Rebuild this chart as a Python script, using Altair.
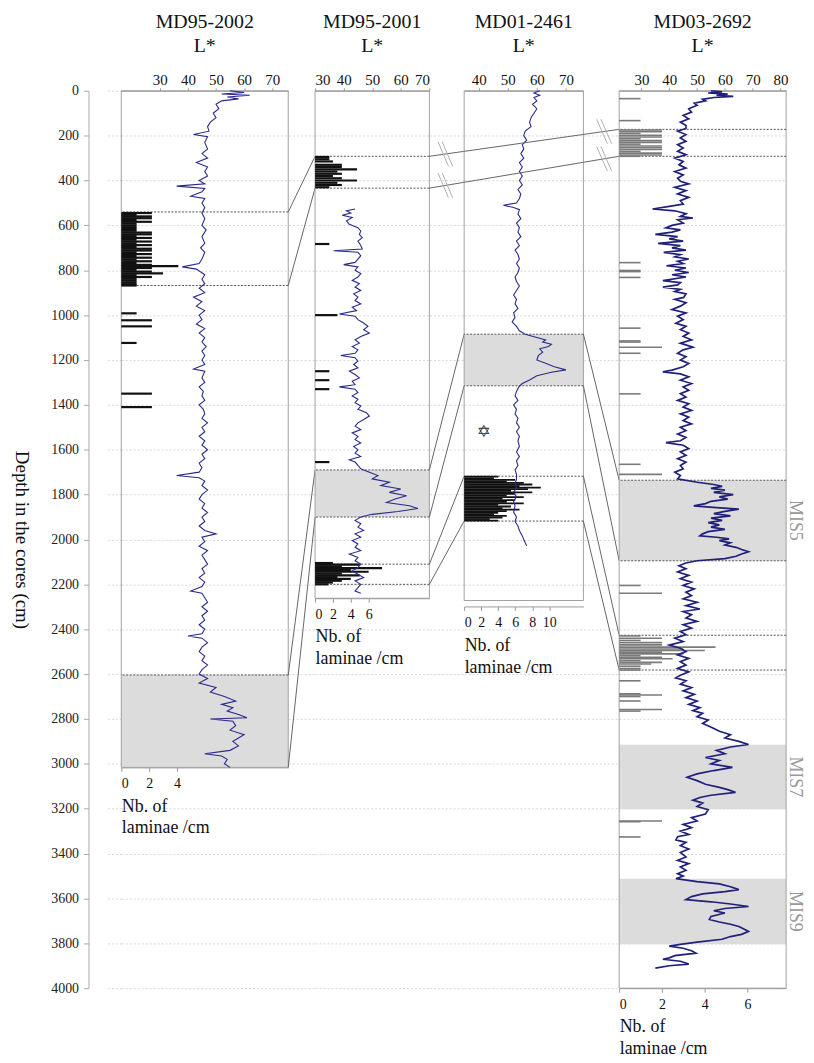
import altair as alt
import pandas as pd

FONT = "Liberation Serif"
BLUE = "#2a2a8a"
PLOT_H = 903
DMAX = 4000
PX = PLOT_H / DMAX

# ---------------- MD95-2002 ----------------
p1_depth = [0, 8, 14, 20, 28, 36, 45, 60, 80, 100, 120, 140, 160, 180, 195, 205, 230, 260, 280, 300,
            320, 340, 360, 380, 400, 415, 425, 435, 450, 470, 480, 500, 520, 545, 570, 600, 620, 650, 680, 700,
            720, 750, 770, 785, 795, 820, 840, 860, 880, 900, 920, 940, 960, 980, 1000, 1020, 1040, 1060, 1080, 1100,
            1120, 1140, 1160, 1180, 1200, 1220, 1240, 1250, 1280, 1300, 1320, 1340, 1360, 1380, 1400, 1420, 1440, 1460, 1480, 1500,
            1520, 1540, 1560, 1580, 1600, 1620, 1640, 1660, 1680, 1700, 1715, 1725, 1740, 1760, 1780, 1800, 1820, 1840, 1860, 1880,
            1900, 1920, 1940, 1960, 1975, 1990, 2010, 2030, 2050, 2070, 2090, 2110, 2130, 2150, 2170, 2190, 2210, 2230, 2240, 2260,
            2280, 2300, 2320, 2340, 2360, 2380, 2400, 2420, 2430, 2440, 2460, 2480, 2500, 2520, 2540, 2560, 2580, 2600, 2620, 2640,
            2660, 2680, 2700, 2720, 2735, 2750, 2765, 2780, 2795, 2800, 2810, 2830, 2850, 2870, 2885, 2900, 2920, 2940, 2955, 2965,
            2980, 3000, 3016]
p1_L = [55, 60, 52, 62, 54, 58, 52, 50, 51, 49, 50, 48, 47, 47.5, 42, 47, 46, 47, 45, 47,
        43, 47, 46, 47, 44, 46, 36, 46, 45, 41, 46, 45, 46, 45, 46, 45, 46.5, 45, 46, 44.5,
        46, 45, 44, 38, 43, 46, 45, 46, 44, 46, 42, 45, 43, 46, 44, 45, 43, 46, 44, 46,
        45, 46.5, 45, 46, 45, 46, 42, 46, 45, 46, 44, 45.5, 45, 46, 44, 45.5, 46, 45, 47, 45,
        46, 44, 46, 45, 47, 45, 46, 44, 45, 44, 36, 44, 46, 45, 47, 45, 44, 46, 45, 47,
        45, 46, 44, 46, 50, 45, 46, 44, 47, 45, 46, 47, 45, 46, 44, 46, 45, 41, 45, 46,
        47, 45, 47, 45, 46, 44, 46, 45, 40, 45, 47, 45, 44, 46, 45, 47, 45, 44, 47, 44,
        50, 48, 53, 57, 52, 56, 54, 58, 61, 48, 56, 57, 55, 60, 58, 56, 58, 55, 46, 52,
        54, 53, 55]
p1_lam_depth = [545, 553, 560, 568, 576, 584, 592, 600, 608, 616, 624, 632, 640, 648, 656, 664, 672, 680, 688, 696,
                704, 712, 720, 728, 736, 744, 752, 760, 768, 776, 782, 790, 798, 806, 814, 822, 830, 838, 846, 854,
                862, 868, 992, 1023, 1050, 1124, 1350, 1410]
p1_lam_n = [2.2, 1.1, 2.2, 2.2, 1.1, 2.2, 1.1, 1.1, 1.1, 1.1, 1.1, 2.2, 2.2, 1.1, 2.2, 1.1, 2.2, 1.1, 2.2, 1.1,
            2.2, 2.2, 1.1, 2.2, 1.1, 2.2, 1.1, 2.2, 1.1, 2.2, 4.1, 2.2, 1.1, 2.2, 3.0, 1.1, 2.2, 1.1, 1.1, 1.1,
            1.1, 1.1, 1.1, 2.2, 2.2, 1.1, 2.2, 2.2]

# ---------------- MD95-2001 ----------------
p2_depth = [527, 535, 545, 555, 565, 580, 595, 610, 625, 640, 655, 670, 690, 705, 713, 720, 735, 750, 765, 775,
            785, 800, 815, 830, 845, 860, 875, 890, 905, 920, 935, 950, 965, 980, 995, 1005, 1020, 1035, 1050, 1065,
            1080, 1095, 1110, 1125, 1140, 1155, 1170, 1180, 1190, 1205, 1220, 1235, 1250, 1265, 1280, 1295, 1310, 1320, 1330, 1345,
            1360, 1375, 1390, 1405, 1420, 1435, 1450, 1465, 1480, 1495, 1510, 1525, 1540, 1555, 1570, 1585, 1600, 1615, 1630, 1645,
            1655, 1670, 1685, 1700, 1715, 1730, 1745, 1760, 1775, 1790, 1805, 1820, 1835, 1850, 1862, 1875, 1888, 1900, 1915, 1930,
            1945, 1960, 1975, 1990, 2005, 2020, 2035, 2050, 2065, 2080, 2095, 2110, 2125, 2140, 2155, 2170, 2185, 2200, 2215, 2230,
            2240]
p2_L = [44, 41, 42.5, 39.5, 43, 41, 42, 45, 46, 45.5, 46.5, 45, 46, 46.5, 36.5, 45, 46, 45, 44, 40,
        45, 44, 46, 45, 43, 45.5, 44, 46, 43.5, 45, 44, 46, 43, 44.5, 38.5, 44, 45, 47, 48.5, 47,
        49, 46, 44, 45.5, 43, 45, 44, 39, 44, 45, 43.5, 45, 42, 44, 45.5, 43, 44, 38.5, 44, 45,
        43, 45, 44, 46, 45, 48, 49, 47, 45, 44, 46, 43, 45, 44, 46, 43.5, 45, 44, 46, 42,
        44, 45, 46, 49, 52, 50, 56, 53, 60, 56, 62, 58, 55, 63, 66, 59, 50, 46, 44, 46,
        45, 47, 44, 46, 43, 45, 44, 46, 42, 45, 44, 46, 45, 43, 45, 47, 44, 46, 45, 44,
        46]
p2_lam_depth = [295, 305, 315, 330, 340, 350, 360, 370, 380, 390, 400, 410, 420, 430, 683, 1000, 1250, 1290, 1330, 1655,
                2105, 2112, 2120, 2128, 2136, 2144, 2152, 2160, 2168, 2176, 2184, 2192, 2200]
p2_lam_n = [1.6, 1.6, 2.0, 3.0, 3.0, 4.7, 2.5, 3.0, 2.0, 3.0, 4.7, 2.5, 3.0, 1.6, 1.6, 2.5, 1.6, 1.6, 1.6, 1.6,
            2.0, 5.0, 3.0, 7.5, 4.0, 6.0, 3.0, 5.0, 2.5, 4.0, 3.0, 2.0, 1.5]

# ---------------- MD01-2461 ----------------
p3_depth = [0, 10, 20, 30, 45, 60, 80, 100, 120, 140, 160, 180, 200, 220, 240, 260, 280, 300, 320, 340,
            360, 380, 400, 420, 440, 460, 480, 500, 510, 520, 530, 550, 570, 590, 610, 630, 650, 670, 690, 710,
            730, 750, 770, 790, 810, 830, 850, 870, 890, 910, 930, 950, 970, 990, 1010, 1030, 1050, 1070, 1085, 1100,
            1111, 1120, 1130, 1140, 1150, 1165, 1180, 1200, 1215, 1230, 1244, 1255, 1270, 1289, 1305, 1320, 1340, 1360, 1380, 1400,
            1420, 1440, 1460, 1480, 1500, 1520, 1540, 1560, 1585, 1610, 1630, 1650, 1670, 1690, 1710, 1732, 1750, 1770, 1790, 1810,
            1830, 1850, 1878, 1900, 1920, 1940, 1960, 1984, 2000, 2015, 2028]
p3_L = [61, 59, 61, 59, 60, 58.5, 60, 59, 58, 57.5, 58, 56, 55.5, 56.5, 55, 55.5, 54.5, 55.5, 54, 55,
        54, 55, 54, 55, 53.5, 54.5, 54, 53, 48.5, 52, 54, 53.5, 54.5, 53, 54, 53.5, 54.5, 53, 54, 52.5,
        53.5, 54, 53, 54, 53.5, 52.5, 53, 54, 53, 52, 53, 52.5, 53.5, 52, 52.5, 51.5, 53, 54, 56, 60,
        63, 62, 65, 64, 61, 62, 60.5, 60, 63, 66, 70, 65, 60, 57.5, 55, 53.8, 53, 52.5, 53.5, 52,
        53, 52.5, 53.5, 53, 54, 53, 54, 53.5, 54, 53, 54, 53, 53.5, 52.5, 53, 53, 52.5, 53, 52, 53,
        52, 52.5, 52, 53, 52.5, 53.5, 54, 55, 55.5, 56, 56.5]
p3_lam_depth = [1720, 1727, 1734, 1741, 1748, 1755, 1762, 1769, 1776, 1783, 1790, 1797, 1804, 1811, 1818, 1825, 1832, 1839, 1846, 1853,
                1860, 1867, 1874, 1881, 1888, 1895, 1902, 1909, 1916]
p3_lam_n = [4, 3.5, 6, 5, 7, 8, 6.5, 9, 7.5, 5.5, 8, 6, 5, 7, 4.5, 6, 5, 7, 4, 5.5,
            4.5, 6.5, 5, 4, 3.5, 5, 4.5, 3, 4]
p3_star = {"depth": [1523], "n": [2.3]}

# ---------------- MD03-2692 ----------------
p4_depth = [0, 5, 10, 15, 20, 25, 30, 38, 45, 55, 65, 80, 95, 110, 125, 140, 155, 168, 180, 195,
            210, 225, 240, 255, 270, 285, 300, 315, 330, 345, 360, 375, 390, 403, 415, 430, 445, 460, 475, 490,
            505, 515, 527, 535, 548, 560, 567, 575, 590, 600, 611, 620, 630, 640, 650, 660, 670, 680, 690, 700,
            710, 720, 730, 740, 750, 760, 770, 780, 790, 800, 810, 820, 830, 846, 855, 865, 875, 885, 895, 905,
            921, 930, 945, 960, 975, 990, 1005, 1020, 1036, 1050, 1065, 1080, 1095, 1110, 1125, 1143, 1155, 1170, 1185, 1200,
            1215, 1230, 1245, 1253, 1262, 1275, 1290, 1305, 1320, 1335, 1350, 1365, 1380, 1395, 1410, 1425, 1440, 1455, 1470, 1485,
            1500, 1515, 1530, 1545, 1560, 1568, 1580, 1595, 1610, 1625, 1640, 1655, 1670, 1685, 1700, 1715, 1730, 1745, 1755, 1763,
            1772, 1780, 1790, 1800, 1810, 1820, 1830, 1840, 1850, 1858, 1865, 1875, 1885, 1895, 1905, 1915, 1925, 1935, 1945, 1955,
            1965, 1975, 1984, 1990, 1997, 2005, 2015, 2025, 2035, 2045, 2055, 2065, 2075, 2085, 2095, 2105, 2117, 2130, 2145, 2160,
            2175, 2190, 2205, 2220, 2235, 2250, 2265, 2280, 2295, 2310, 2321, 2335, 2350, 2365, 2380, 2395, 2410, 2425, 2440, 2455,
            2471, 2485, 2500, 2515, 2530, 2545, 2560, 2575, 2590, 2605, 2617, 2630, 2645, 2660, 2675, 2690, 2705, 2720, 2735, 2750,
            2763, 2775, 2790, 2805, 2820, 2839, 2855, 2870, 2885, 2900, 2914, 2925, 2940, 2955, 2972, 2985, 3000, 3016, 3030, 3045,
            3060, 3075, 3091, 3105, 3115, 3127, 3140, 3150, 3162, 3175, 3190, 3205, 3224, 3240, 3255, 3270, 3285, 3300, 3315, 3325,
            3339, 3350, 3365, 3380, 3395, 3415, 3430, 3445, 3460, 3475, 3490, 3500, 3512, 3525, 3535, 3548, 3561, 3570, 3580, 3592,
            3605, 3615, 3625, 3636, 3645, 3655, 3665, 3680, 3694, 3705, 3715, 3725, 3737, 3747, 3760, 3770, 3782, 3795, 3805, 3813,
            3822, 3833, 3844, 3855, 3865, 3871, 3880, 3893, 3900, 3911]
p4_L = [55, 59, 54, 61, 57, 63, 56, 52, 53, 49, 50, 47, 48, 45, 47, 44, 46, 46, 43, 46,
        44, 46, 43, 45, 43, 46, 42, 45, 43.5, 46, 42, 45, 43, 44, 47, 42, 46, 43, 47, 44,
        45, 40, 34, 42, 46, 44, 48.5, 43, 45, 41, 38.8, 44, 41, 35, 43, 40, 45, 36, 44, 41,
        46, 38, 44, 42, 47, 43, 45, 39, 46, 42, 47, 41, 46, 37.7, 44, 43, 37.7, 44, 42, 46,
        45.2, 42, 46, 44, 41, 46, 43, 45, 42.4, 46, 44, 47, 45, 48, 44, 48.5, 45, 43, 46, 44,
        47, 45, 41, 37.7, 44, 47, 44, 48, 45, 47, 44, 46, 43, 47, 45, 48, 44, 47, 45, 48,
        44, 46, 43, 46, 44, 38.8, 45, 47, 44, 46, 43, 46, 44, 45, 42, 44, 43, 50, 56, 59,
        55, 60, 56, 63, 58, 61, 55, 53, 48.8, 57, 65, 60, 56, 62, 55, 59, 54, 58, 55, 60,
        54, 52, 51, 57, 61.5, 58, 62, 60, 64, 66, 68.5, 66, 64, 60, 50, 46, 43.5, 46, 43, 47,
        44, 48, 45, 49, 46, 48, 45, 50, 46, 51, 45, 48, 46, 50, 45, 48, 44, 46, 42, 45,
        40, 44, 46, 43, 47, 44, 46, 43, 47, 44, 42.3, 46, 44, 48, 45, 49, 46, 50, 47, 51,
        48.5, 52, 50, 54, 52, 55.5, 58, 62, 60, 65, 68.5, 62, 57, 60, 53, 58, 55, 62.7, 56, 50,
        46.4, 50, 53, 58, 61, 63.8, 55, 51, 48.5, 52, 50, 54, 53, 48, 50, 45, 48, 44, 47, 43,
        42.4, 46, 44, 47, 44, 46, 43, 47, 44, 46, 43, 45, 42.4, 50, 58, 62, 65, 60, 52, 48,
        46, 55, 62, 68.5, 60, 56, 60, 55, 54.4, 58, 62, 65, 67, 68.5, 66, 62, 59, 50, 44, 40,
        45, 48, 49.6, 42, 40, 37.7, 44, 47, 40, 35]
p4_lam_depth = [35, 133, 175, 182, 190, 198, 206, 214, 222, 230, 238, 246, 254, 262, 270, 278, 286, 292, 766, 801,
                806, 832, 1058, 1115, 1120, 1143, 1170, 1351, 1665, 1710, 2205, 2240, 2430, 2440, 2450, 2460, 2470, 2480, 2488, 2495,
                2502, 2510, 2518, 2525, 2532, 2540, 2548, 2555, 2565, 2575, 2582, 2630, 2688, 2693, 2700, 2720, 2758, 2765, 3255, 3258,
                3326]
p4_lam_n = [1.0, 1.0, 2.0, 2.0, 1.0, 2.0, 2.0, 1.0, 2.0, 2.0, 1.0, 2.0, 2.0, 2.0, 1.0, 2.0, 2.0, 1.0, 1.0, 1.0,
            1.0, 1.0, 1.0, 1.0, 1.0, 2.0, 1.0, 1.0, 1.0, 2.0, 1.0, 2.0, 1.0, 2.0, 1.0, 2.0, 2.0, 4.5, 3.0, 4.0,
            2.0, 3.0, 1.0, 2.0, 2.5, 1.0, 2.0, 1.5, 1.0, 1.0, 1.0, 1.0, 1.0, 2.0, 1.0, 1.0, 2.0, 1.0, 2.0, 1.0,
            1.0]

# ---------------- correlations / zones ----------------
p1_bands = {"top": [2604], "bot": [3016]}
p2_bands = {"top": [1690], "bot": [1900]}
p3_bands = {"top": [1085], "bot": [1315]}
p4_bands = {"top": [1736, 2915, 3512], "bot": [2095, 3202, 3804]}
p1_rules = [540, 868, 2604]
p2_rules = [292, 434, 1690, 1900, 2110, 2200]
p3_rules = [1085, 1315, 1718, 1918]
p4_rules = [172, 292, 1736, 2095, 2427, 2582]
link12 = [(540, 292), (868, 434), (2604, 1690), (3016, 1900)]
link23 = [(1690, 1085), (1900, 1315), (2110, 1718), (2200, 1918)]
link34 = [(1085, 1736), (1315, 2095), (1718, 2427), (1918, 2582)]
link24 = [(292, 172), (434, 292)]  # MD95-2001 -> MD03-2692, across MD01-2461
mis_labels = ["MIS5", "MIS7", "MIS9"]
mis_center = [1915, 3058, 3658]

# ---------------- layout widths (px) ----------------
W_GUT, W1, W12, W2, W23, W3, W34, W4, W_MIS = 14, 168, 27, 115, 35, 120, 36, 168, 18

YS = alt.Scale(domain=[0, DMAX], reverse=True, nice=False, zero=False)
GRID = alt.Axis(grid=True, labels=False, ticks=False, domain=False, title=None,
                values=list(range(200, DMAX + 1, 200)), gridColor="#d6d6d6", gridDash=[2, 2])


def Y(field):
    return alt.Y(field, type="quantitative", scale=YS, axis=GRID)


def panel(name, width, Ldom, Lticks, lamdom, lamticks, bottom, depth, L, lamd, lamn,
          bands, rules, lam_color, lam_w, line_w, line_color, extra=(), axis_gap=0):
    off = -(PLOT_H - bottom * PX) + axis_gap
    Lscale = alt.Scale(domain=Ldom, nice=False, zero=False)
    lamscale = alt.Scale(domain=lamdom, nice=False, zero=False)
    top_axis = alt.Axis(orient="top", values=Lticks, title=None, labelFont=FONT, labelFontSize=15,
                        labelColor="#111", domainColor="#999", tickColor="#999", tickSize=3,
                        labelPadding=0, grid=False)
    bot_axis = alt.Axis(orient="bottom", values=lamticks, offset=off, labelFont=FONT, labelFontSize=14,
                        labelColor="#111", domainColor="#999", tickColor="#999", tickSize=4,
                        labelPadding=5, grid=False, title=["Nb. of", "laminae /cm"], titleFont=FONT,
                        titleFontSize=18, titleFontWeight="normal", titleColor="#111",
                        titleAnchor="start", titleAlign="left", titlePadding=7, titleLineHeight=22)
    band = alt.Chart(pd.DataFrame(bands)).mark_rect(color="#dcdcdc").encode(y=Y("top"), y2="bot")
    frame = alt.Chart(pd.DataFrame({"top": [0], "bot": [bottom]})).mark_rect(
        fillOpacity=0, stroke="#a0a0a0", strokeWidth=1).encode(y=Y("top"), y2="bot")
    rule = alt.Chart(pd.DataFrame({"d": rules})).mark_rule(
        color="#555", strokeDash=[2, 1.5], strokeWidth=1).encode(y=Y("d"))
    lam = alt.Chart(pd.DataFrame({"depth": lamd, "n": lamn, "z": [0] * len(lamd)})).mark_rule(
        color=lam_color, strokeWidth=lam_w).encode(
        x=alt.X("z:Q", scale=lamscale, axis=bot_axis), x2="n:Q", y=Y("depth"))
    line = alt.Chart(pd.DataFrame({"depth": depth, "L": L})).mark_line(
        color=line_color, strokeWidth=line_w).encode(
        x=alt.X("L:Q", scale=Lscale, axis=top_axis), y=Y("depth"), order="depth:Q")
    layers = [band, frame, rule, lam, line]
    for kind, df in extra:
        if kind == "cross":
            layers.append(alt.Chart(df).mark_line(color="#666", strokeWidth=1).encode(
                x=alt.X("x:Q", scale=alt.Scale(domain=[0, 1], nice=False, zero=False), axis=None),
                y=Y("d"), detail="id:N", order="x:Q"))
        elif kind == "star":
            layers.append(alt.Chart(df).mark_text(text="\u2721", fontSize=17, font="DejaVu Sans",
                                                  color="#333").encode(
                x=alt.X("n:Q", scale=lamscale, axis=None), y=Y("depth")))
    return alt.layer(*layers).resolve_scale(x="independent").properties(
        width=width, height=PLOT_H,
        title=alt.TitleParams(text=[name, "L*"], font=FONT, fontSize=20, fontWeight="normal",
                              color="#111", anchor="middle", offset=17, lineHeight=24))


def connector(width, links, crosses=(), breaks=None):
    rows = []
    for i, (a, b) in enumerate(links):
        rows += [{"id": i, "x": 0, "d": a}, {"id": i, "x": 1, "d": b}]
    for j, (a, b) in enumerate(crosses):
        rows += [{"id": 100 + j, "x": 0, "d": a}, {"id": 100 + j, "x": 1, "d": b}]
    xs = alt.Scale(domain=[0, 1], nice=False, zero=False)
    layers = [alt.Chart(pd.DataFrame(rows)).mark_line(color="#666", strokeWidth=1).encode(
        x=alt.X("x:Q", scale=xs, axis=None), y=Y("d"), detail="id:N", order="x:Q")]
    if breaks is not None:
        layers.append(alt.Chart(breaks).mark_line(color="#b0b0b0", strokeWidth=1).encode(
            x=alt.X("x:Q", scale=xs, axis=None), y=Y("d"), detail="id:N", order="x:Q"))
    return alt.layer(*layers).properties(width=width, height=PLOT_H)


# crossing lines MD95-2001 -> MD03-2692 split over the three cells they cross
span = W23 + W3 + W34
f1, f2 = W23 / span, (W23 + W3) / span
cross23, cross3, cross34 = [], [], []
for a, b in link24:
    d1 = a + (b - a) * f1
    d2 = a + (b - a) * f2
    cross23.append((a, d1))
    cross3.append((d1, d2))
    cross34.append((d2, b))


def break_marks(crosses, fx, frac_w, gap):
    rows = []
    k = 0
    for a, b in crosses:
        dc = a + (b - a) * fx
        for s in (-gap, gap):
            rows += [{"id": k, "x": fx - frac_w / 2 + s, "d": dc - 55},
                     {"id": k, "x": fx + frac_w / 2 + s, "d": dc + 55}]
            k += 1
    return pd.DataFrame(rows)


cross3_df = pd.DataFrame([{"id": i, "x": x, "d": d} for i, (a, b) in enumerate(cross3)
                          for x, d in ((0, a), (1, b))])

gutter = alt.Chart(pd.DataFrame({"d": [0, DMAX]})).mark_point(opacity=0).encode(
    y=alt.Y("d:Q", scale=YS, axis=alt.Axis(
        values=list(range(0, DMAX + 1, 200)), format="d", grid=True, gridColor="#d6d6d6", gridDash=[2, 2],
        offset=19, domainColor="#aaa", tickColor="#aaa", tickSize=5, labelFont=FONT,
        labelFontSize=14, labelColor="#222", labelPadding=5, title="Depth in the cores (cm)",
        titleFont=FONT, titleFontSize=19, titleFontWeight="normal", titleColor="#111",
        titleAngle=90, titleBaseline="top", titlePadding=20))).properties(width=W_GUT, height=PLOT_H)

p1 = panel("MD95-2002", W1, [16.3, 75.7], [30, 40, 50, 60, 70], [0, 12], [0, 2, 4], 3016,
           p1_depth, p1_L, p1_lam_depth, p1_lam_n, p1_bands, p1_rules, "#111", 2.2, 1.1, BLUE)
p2 = panel("MD95-2001", W2, [30, 70], [30, 40, 50, 60, 70], [0, 12.8], [0, 2, 4, 6], 2262,
           p2_depth, p2_L, p2_lam_depth, p2_lam_n, p2_bands, p2_rules, "#111", 2.2, 1.1, BLUE)
p3 = panel("MD01-2461", W3, [35, 76], [40, 50, 60, 70], [0, 14], [0, 2, 4, 6, 8, 10], 2272,
           p3_depth, p3_L, p3_lam_depth, p3_lam_n, p3_bands, p3_rules, "#111", 1.8, 1.1, BLUE,
           extra=[("cross", cross3_df), ("star", pd.DataFrame(p3_star))], axis_gap=6)
p4 = panel("MD03-2692", W4, [22, 82], [30, 40, 50, 60, 70, 80], [0, 7.8], [0, 2, 4, 6], 4000,
           p4_depth, p4_L, p4_lam_depth, p4_lam_n, p4_bands, p4_rules, "#7a7a7a", 1.6, 1.7, "#20207a")

c12 = connector(W12, link12)
c23 = connector(W23, link23, cross23, break_marks(cross23, 0.46, 0.3, 0.06))
c34 = connector(W34, link34, cross34, break_marks(cross34, 0.58, 0.3, 0.06))

mis = alt.Chart(pd.DataFrame({"label": mis_labels, "c": mis_center})).mark_text(
    angle=90, fontSize=18, font=FONT, color="#999").encode(
    y=alt.Y("c:Q", scale=YS, axis=None), text="label:N", x=alt.value(9)).properties(
    width=W_MIS, height=PLOT_H)

chart = alt.hconcat(gutter, p1, c12, p2, c23, p3, c34, p4, mis, spacing=0, bounds="flush").configure_view(
    stroke=None).configure_axis(labelFont=FONT, titleFont=FONT).configure_text(font=FONT).configure_title(
    font=FONT).properties(padding={"left": 4, "top": 1, "right": 2, "bottom": 0})

chart.save("out.html", embed_options={"renderer": "svg", "actions": False})
